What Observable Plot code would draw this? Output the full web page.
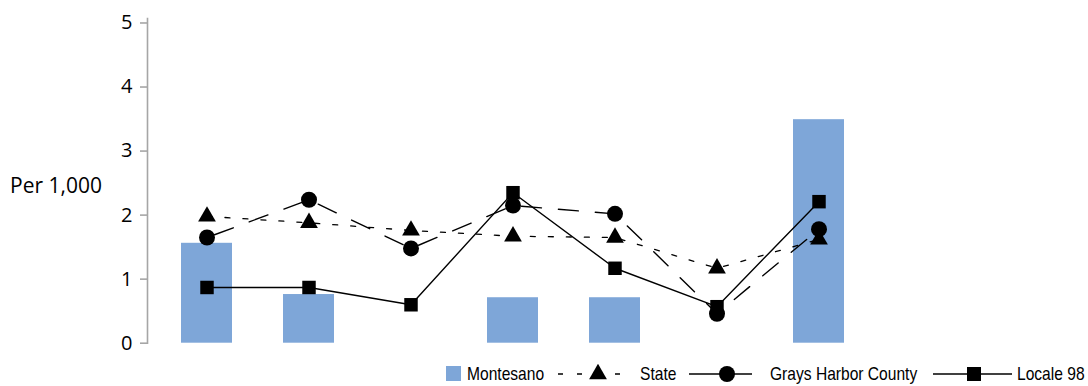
<!DOCTYPE html>
<html>
<head>
<meta charset="utf-8">
<script src="https://cdn.jsdelivr.net/npm/d3@7"></script>
<script src="https://cdn.jsdelivr.net/npm/@observablehq/plot@0.6"></script>
<style>
  html, body { margin: 0; padding: 0; background: #fff; }
  #wrap { position: relative; width: 1088px; height: 386px; overflow: hidden; }
  #wrap svg.plot { position: absolute; left: 0; top: 0; }
  .ylab { position: absolute; left: 10px; top: 171px; font-family: "Open Sans", sans-serif; font-size: 21px; line-height: 29px; color: #000; white-space: nowrap; }
  .leg { position: absolute; top: 364px; height: 20px; font-family: "Liberation Sans", Arial, sans-serif; font-size: 19px; line-height: 20px; color: #000; white-space: nowrap; transform: scaleX(0.82); transform-origin: left center; }
  .sw { position: absolute; top: 364px; }
</style>
</head>
<body>
<div id="wrap"></div>
<script>
const categories = ["1", "2", "3", "4", "5", "6", "7"];
const montesano = [1.56, 0.76, null, 0.71, 0.71, null, 3.49];
const state = [1.98, 1.88, 1.76, 1.67, 1.65, 1.17, 1.62];
const graysHarbor = [1.65, 2.24, 1.48, 2.15, 2.02, 0.46, 1.78];
const locale98 = [0.87, 0.87, 0.60, 2.35, 1.17, 0.57, 2.21];
const yTicks = [0, 1, 2, 3, 4, 5];
const seriesNames = ["Montesano", "State", "Grays Harbor County", "Locale 98"];

const rows = (vals) => categories.map((c, i) => ({cat: c, v: vals[i]}));

const W = 1088, H = 386;
const chart = Plot.plot({
  width: W,
  height: H,
  marginLeft: 147,
  marginRight: 217,
  marginTop: 18,
  marginBottom: 43.3,
  style: {fontFamily: "'Open Sans', sans-serif", fontSize: "19px", color: "#000", background: "#fff"},
  x: {type: "band", domain: categories, range: [179.4, 845.6], paddingInner: 0.5, paddingOuter: 0, axis: null},
  y: {domain: [0, 5.07], ticks: yTicks},
  marks: [
    Plot.frame({anchor: "left", stroke: "#a6a6a6", strokeWidth: 1.6}),
    Plot.axisY({ticks: yTicks, tickSize: 7, tickPadding: 8, stroke: "#a6a6a6", strokeWidth: 1.6, label: null, tickFormat: d => String(d), fill: "#000", fontSize: 20}),
    Plot.barY(rows(montesano).filter(d => d.v != null), {x: "cat", y: "v", fill: "#7ea6d8"}),
    Plot.line(rows(state), {x: "cat", y: "v", stroke: "#000", strokeWidth: 1.3, strokeDasharray: "5,13"}),
    Plot.line(rows(graysHarbor), {x: "cat", y: "v", stroke: "#000", strokeWidth: 1.4, strokeDasharray: "20,17", strokeDashoffset: -8}),
    Plot.line(rows(locale98), {x: "cat", y: "v", stroke: "#000", strokeWidth: 1.4}),
    Plot.dot(rows(state), {x: "cat", y: "v", symbol: "triangle", r: 6.6, fill: "#000", stroke: "none"}),
    Plot.dot(rows(graysHarbor), {x: "cat", y: "v", symbol: "circle", r: 8, fill: "#000", stroke: "none"}),
    Plot.dot(rows(locale98), {x: "cat", y: "v", symbol: "square", r: 7.6, fill: "#000", stroke: "none"})
  ]
});
chart.classList.add("plot");
const wrap = document.getElementById("wrap");
wrap.appendChild(chart);

const yl = document.createElement("div");
yl.className = "ylab";
yl.textContent = "Per 1,000";
wrap.appendChild(yl);

// legend
const ns = "http://www.w3.org/2000/svg";
function swatch(left, width, draw) {
  const s = document.createElementNS(ns, "svg");
  s.setAttribute("class", "sw");
  s.setAttribute("width", width);
  s.setAttribute("height", 20);
  s.style.left = left + "px";
  s.innerHTML = draw;
  wrap.appendChild(s);
}
function label(left, text) {
  const d = document.createElement("div");
  d.className = "leg";
  d.style.left = left + "px";
  d.textContent = text;
  wrap.appendChild(d);
}
swatch(446, 16, '<rect x="0" y="2" width="15" height="15" fill="#7ea6d8"/>');
label(467, seriesNames[0]);
swatch(556, 80, '<line x1="2" y1="10" x2="76" y2="10" stroke="#000" stroke-width="1.3" stroke-dasharray="5,14"/>' +
  '<path transform="translate(42,10)" fill="#000" d="' + d3.symbol(d3.symbolTriangle, Math.PI * 6.6 * 6.6)() + '"/>');
label(640, seriesNames[1]);
swatch(688, 66, '<line x1="1" y1="10" x2="64" y2="10" stroke="#000" stroke-width="1.4"/><circle cx="39" cy="10" r="8" fill="#000"/>');
label(770, seriesNames[2]);
swatch(932, 82, '<line x1="1" y1="10" x2="80" y2="10" stroke="#000" stroke-width="1.4"/><rect x="35" y="3" width="14" height="14" fill="#000"/>');
label(1017, seriesNames[3]);
</script>
</body>
</html>
